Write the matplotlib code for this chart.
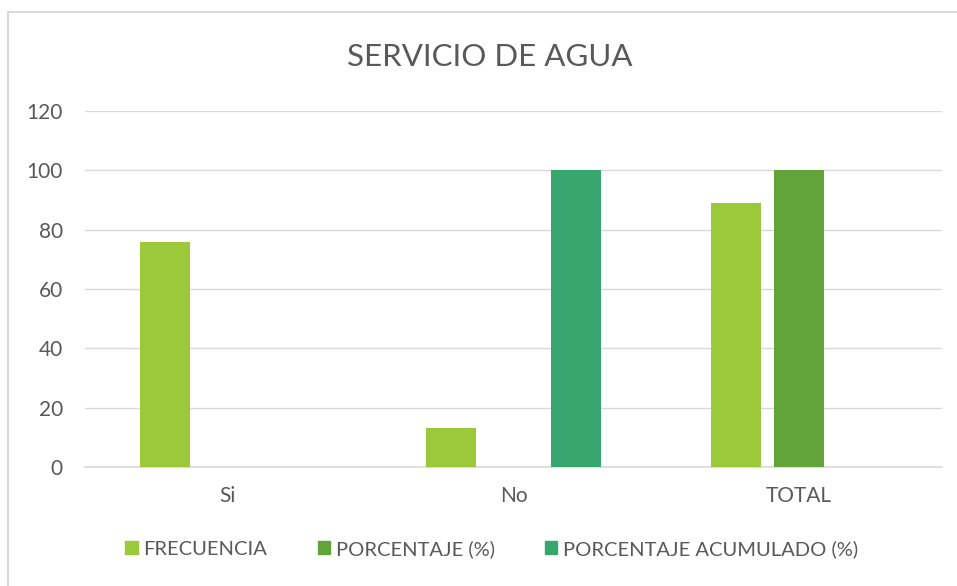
import matplotlib
matplotlib.use("Agg")
import matplotlib.pyplot as plt
import numpy as np
from matplotlib.lines import Line2D

plt.rcParams["font.family"] = ["Lato", "DejaVu Sans"]

# data
categories = ["Si", "No", "TOTAL"]
series_names = ["FRECUENCIA", "PORCENTAJE (%)", "PORCENTAJE ACUMULADO (%)"]
frecuencia = [76, 13, 89]
porcentaje = [0, 0, 100]
acumulado = [0, 100, 0]
colors = ["#9bc93a", "#62a439", "#37a76f"]

text_color = "#595959"
grid_color = "#d9d9d9"

fig = plt.figure(figsize=(9.57, 5.86), dpi=100)
ax = fig.add_axes([85 / 957, 1 - 467 / 586, 857 / 957, 356 / 586])

x = np.arange(len(categories))
width = 0.175
offset = 0.22
for i, (vals, name, col) in enumerate(zip([frecuencia, porcentaje, acumulado], series_names, colors)):
    ax.bar(x + (i - 1) * offset, vals, width, color=col, label=name, zorder=3)

ax.set_xlim(-0.5, len(categories) - 0.5)
ax.set_ylim(0, 120)
ax.set_yticks(range(0, 121, 20))
ax.set_xticks(x)
ax.set_xticklabels(categories)
ax.grid(axis="y", color=grid_color, linewidth=1, zorder=0)
for side in ["top", "right", "left"]:
    ax.spines[side].set_visible(False)
ax.spines["bottom"].set_color(grid_color)
ax.spines["bottom"].set_linewidth(1.2)
ax.tick_params(axis="both", length=0, labelsize=15, labelcolor=text_color)
ax.tick_params(axis="y", pad=16)
ax.tick_params(axis="x", pad=14)

fig.text(490 / 957, 1 - 57 / 586, "SERVICIO DE AGUA", ha="center", va="center",
         fontsize=22.5, color=text_color)

handles = [plt.Rectangle((0, 0), 1, 1, color=c) for c in colors]
fig.legend(handles, series_names, loc="center", bbox_to_anchor=(492 / 957, 1 - 549 / 586),
           ncol=3, frameon=False, fontsize=14.5, labelcolor=text_color,
           handlelength=0.6, handleheight=0.6, handletextpad=0.3, columnspacing=2.5)

# chart-area border (only top and left edges fall inside the picture)
fig.add_artist(Line2D([8 / 957, 8 / 957], [0, 1 - 12 / 586], color=grid_color, linewidth=1.5))
fig.add_artist(Line2D([8 / 957, 1], [1 - 12 / 586, 1 - 12 / 586], color=grid_color, linewidth=1.5))

fig.savefig("out.png", dpi=100)
